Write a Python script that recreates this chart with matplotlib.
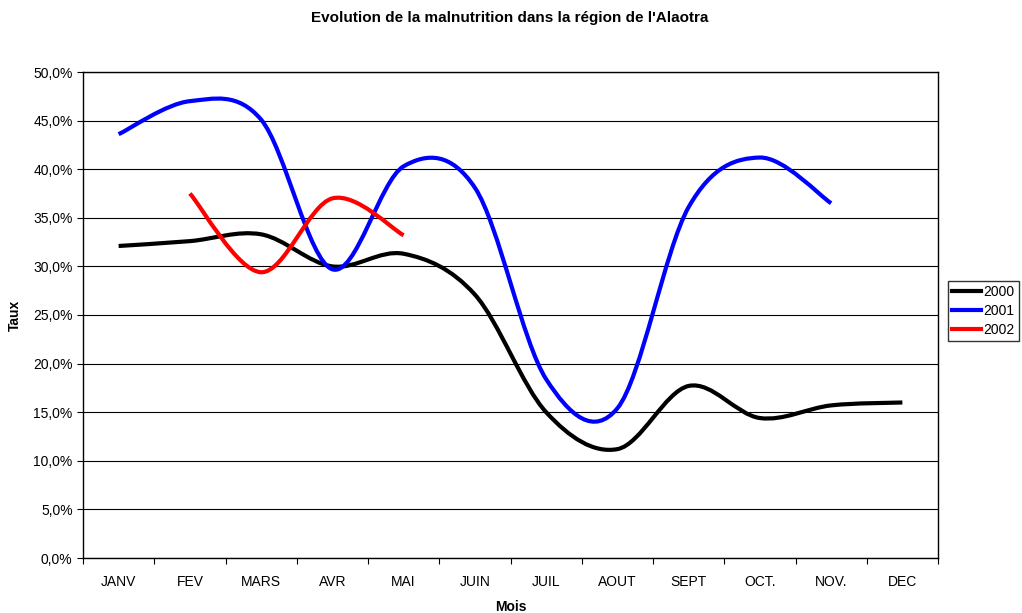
import numpy as np
import matplotlib
matplotlib.use("Agg")
import matplotlib.pyplot as plt
from matplotlib.path import Path
from matplotlib.patches import PathPatch
from matplotlib.lines import Line2D
from matplotlib.ticker import FuncFormatter, MultipleLocator

plt.rcParams['font.family'] = ['Liberation Sans', 'DejaVu Sans']

months = ['JANV', 'FEV', 'MARS', 'AVR', 'MAI', 'JUIN', 'JUIL', 'AOUT',
          'SEPT', 'OCT.', 'NOV.', 'DEC']
taux_2000 = [0.321, 0.326, 0.333, 0.300, 0.313, 0.271, 0.150, 0.112,
             0.177, 0.144, 0.157, 0.160]
taux_2001 = [0.436, 0.470, 0.451, 0.297, 0.403, 0.381, 0.184, 0.154,
             0.361, 0.412, 0.365]
taux_2002 = [None, 0.375, 0.294, 0.370, 0.332]


def smooth_path(xs, ys):
    # Excel-style smoothed line: cubic bezier, catmull-rom tangents
    pts = np.array([[x, y] for x, y in zip(xs, ys) if y is not None])
    n = len(pts)
    verts = [pts[0]]
    codes = [Path.MOVETO]
    for i in range(n - 1):
        p0 = pts[i - 1] if i > 0 else pts[i]
        p1, p2 = pts[i], pts[i + 1]
        p3 = pts[i + 2] if i + 2 < n else pts[i + 1]
        verts += [p1 + (p2 - p0) / 6, p2 - (p3 - p1) / 6, p2]
        codes += [Path.CURVE4] * 3
    return Path(verts, codes)


fig = plt.figure(figsize=(10.22, 6.13), dpi=100)
ax = fig.add_axes([83 / 1022, 1 - 558 / 613, 855 / 1022, 486 / 613])

x = np.arange(1, len(months) + 1)
series = [('2000', taux_2000, 'black'), ('2001', taux_2001, '#0000ff'),
          ('2002', taux_2002, '#ff0000')]
handles = []
for name, vals, col in series:
    p = smooth_path(x[:len(vals)], vals)
    ax.add_patch(PathPatch(p, facecolor='none', edgecolor=col, lw=3,
                           capstyle='butt', joinstyle='round', zorder=3))
    handles.append(Line2D([], [], color=col, lw=3, label=name))

ax.set_xlim(0.5, 12.5)
ax.set_ylim(0, 0.5)
ax.yaxis.set_major_locator(MultipleLocator(0.05))
ax.yaxis.set_major_formatter(FuncFormatter(lambda v, p: f"{v*100:.1f}%".replace('.', ',')))
ax.set_xticks(np.arange(0.5, 13.0, 1.0))
ax.set_xticklabels([])
ax.set_xticks(x, minor=True)
ax.set_xticklabels(months, minor=True)
ax.tick_params(axis='x', which='minor', length=0, pad=12, labelsize=10)
ax.tick_params(axis='x', which='major', length=4, direction='out')
ax.tick_params(axis='y', length=4, direction='out', labelsize=10)
ax.yaxis.grid(True, color='black', lw=0.8)
ax.set_axisbelow(True)
for s in ax.spines.values():
    s.set_linewidth(1.0)

ax.set_xlabel('Mois', fontsize=10, fontweight='bold', labelpad=8)
ax.set_ylabel('Taux', fontsize=10, fontweight='bold', labelpad=8)
fig.text(510 / 1022, 1 - 18 / 613, "Evolution de la malnutrition dans la région de l'Alaotra",
         ha='center', va='center', fontsize=11, fontweight='bold')

leg = fig.legend(handles=handles, loc='center left', bbox_to_anchor=(948 / 1022, 1 - 311 / 613),
                 frameon=True, fancybox=False, edgecolor='black', fontsize=10,
                 handlelength=2.1, handletextpad=0.15, borderpad=0.3, labelspacing=0.35,
                 borderaxespad=0)
leg.get_frame().set_linewidth(1.0)

fig.savefig('out.png', dpi=100)
